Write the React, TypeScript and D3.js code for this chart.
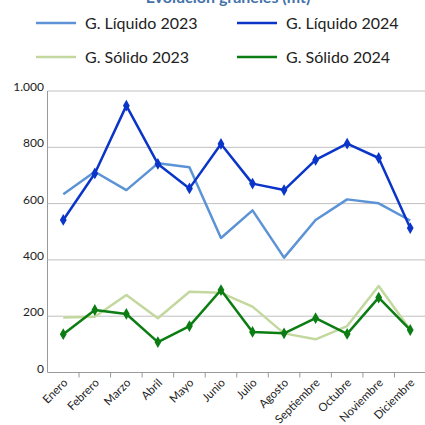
import React from "react";
import * as d3 from "d3";

const months = ["Enero","Febrero","Marzo","Abril","Mayo","Junio","Julio","Agosto","Septiembre","Octubre","Noviembre","Diciembre"];
const liquido2023 = [633,713,648,743,729,478,576,408,542,615,601,540];
const liquido2024 = [542,707,948,741,654,812,671,648,755,813,762,513];
const solido2023 = [195,198,275,193,287,283,234,139,118,165,307,152];
const solido2024 = [136,222,208,108,165,293,144,139,193,137,266,151];
const yTicks = [0,200,400,600,800,1000];
const seriesNames = ["G. Líquido 2023","G. Líquido 2024","G. Sólido 2023","G. Sólido 2024"];

const W = 425, H = 425;
const FONT = "Lato, 'Open Sans', sans-serif";

export default function App() {
  const left = 47.5, right = 426, top = 91, bottom = 372.5;
  const x = d3.scaleBand<string>().domain(months).range([left, right]);
  const y = d3.scaleLinear().domain([0, 1000]).range([bottom, top]);
  const cx = (m: string) => (x(m) as number) + x.bandwidth() / 2;
  const line = d3.line<number>().x((_, i) => cx(months[i])).y(d => y(d));
  const fmt = (v: number) => v === 1000 ? "1.000" : String(v);

  const series = [
    { name: seriesNames[0], data: liquido2023, color: "#5b93d6", marker: false, width: 2.5 },
    { name: seriesNames[2], data: solido2023, color: "#c3d89e", marker: false, width: 2.5 },
    { name: seriesNames[1], data: liquido2024, color: "#0a35c8", marker: true, width: 2.5 },
    { name: seriesNames[3], data: solido2024, color: "#0b7d13", marker: true, width: 2.5 },
  ];
  const legend = [
    { name: seriesNames[0], color: "#5b93d6", lx: 36, ly: 23 },
    { name: seriesNames[1], color: "#0a35c8", lx: 237, ly: 23 },
    { name: seriesNames[2], color: "#c3d89e", lx: 36, ly: 57 },
    { name: seriesNames[3], color: "#0b7d13", lx: 237, ly: 57 },
  ];
  const diamond = d3.symbol().type(d3.symbolDiamond).size(40)();

  return (
    <svg width={W} height={H} style={{ position: "absolute", left: 0, top: 0, background: "#fff" }} fontFamily={FONT}>
      <text x={228} y={3} textAnchor="middle" fontSize={16} fontWeight="bold" fill="#4472a8">Evolución graneles (mt)</text>
      {legend.map(l => (
        <g key={l.name}>
          <line x1={l.lx} x2={l.lx + 40} y1={l.ly} y2={l.ly} stroke={l.color} strokeWidth={2.5} />
          <text x={l.lx + 49} y={l.ly + 6} fontSize={16} fill="#222">{l.name}</text>
        </g>
      ))}
      {yTicks.map(t => (
        <g key={t}>
          {t > 0 && <line x1={left} x2={W} y1={y(t)} y2={y(t)} stroke="#c0c0c0" strokeWidth={1} />}
          <text x={44} y={y(t)} textAnchor="end" fontSize={12} fill="#222">{fmt(t)}</text>
        </g>
      ))}
      <line x1={left} x2={left} y1={top} y2={bottom} stroke="#9a9a9a" strokeWidth={1} />
      <line x1={left} x2={W} y1={bottom} y2={bottom} stroke="#9a9a9a" strokeWidth={1} />
      {months.map((m, i) => i > 0 ? (
        <line key={"t" + m} x1={x(m) as number} x2={x(m) as number} y1={bottom} y2={bottom + 5} stroke="#9a9a9a" />
      ) : null)}
      {months.map(m => (
        <text key={m} transform={`translate(${cx(m) + 5},${bottom + 11}) rotate(-45)`} textAnchor="end" fontSize={11.5} fill="#222">{m}</text>
      ))}
      {series.map(s => (
        <g key={s.name}>
          <path d={line(s.data) as string} fill="none" stroke={s.color} strokeWidth={s.width} strokeLinejoin="round" />
          {s.marker && s.data.map((v, i) => (
            <path key={i} d={diamond as string} transform={`translate(${cx(months[i])},${y(v)})`} fill={s.color} />
          ))}
        </g>
      ))}
    </svg>
  );
}
